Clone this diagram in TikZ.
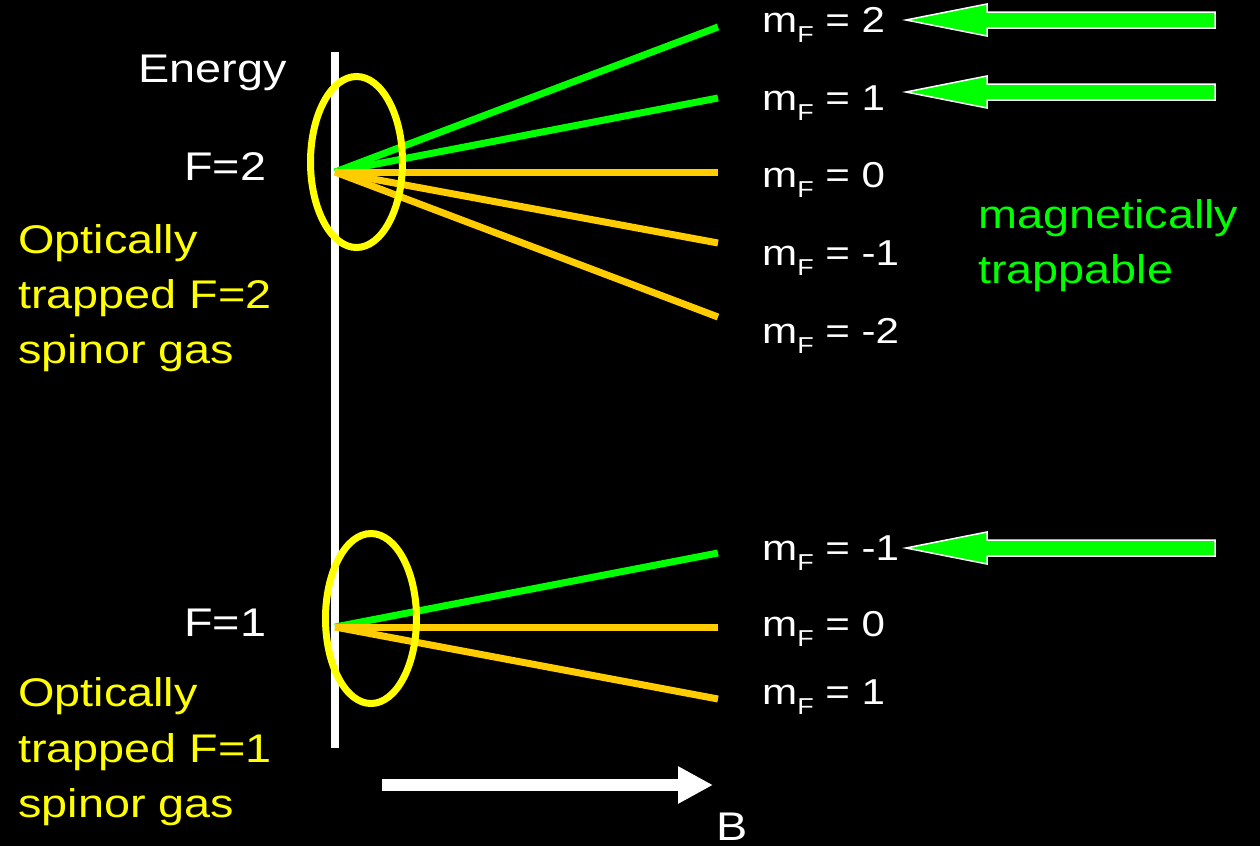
\documentclass[tikz,border=0pt]{standalone}
\usepackage{fontspec}
\setmainfont{Liberation Sans}
\usetikzlibrary{shapes.geometric,arrows.meta}
\definecolor{lgreen}{RGB}{0,255,0}
\definecolor{lorange}{RGB}{255,204,0}
\definecolor{lyellow}{RGB}{255,255,0}
\newcommand\mysx[1]{\scalebox{1.17}[1]{#1}}
\newcommand\mylbl[1]{\mysx{m\raisebox{-10pt}{\fontsize{23}{23}\selectfont F} = #1}}
\begin{document}
\begin{tikzpicture}[x=1pt,y=-1pt,
  lbl/.style={inner sep=0pt, anchor=base west, text=white, font=\fontsize{36}{36}\selectfont},
  big/.style={inner sep=0pt, anchor=base west, font=\fontsize{40}{40}\selectfont},
  lev/.style={line width=7pt},
  ring/.style={ellipse, draw=lyellow, line width=7pt, inner sep=0pt},
  bigarrow/.style={fill=lgreen, draw=white, line width=1.5pt, line join=miter}]
\fill[black] (0,0) rectangle (1260,846);
\useasboundingbox (0,0) rectangle (1260,846);
% energy axis
\coordinate (vt) at (335,52);
\coordinate (vb) at (335,748);
\draw[white, line width=8pt] (vt) -- (vb);
% F=2 levels
\coordinate (o2) at (335,172);
\coordinate (u2) at (718,27);
\coordinate (u1) at (718,98);
\coordinate (u0) at (718,172);
\coordinate (um1) at (718,243);
\coordinate (um2) at (718,317);
\draw[lev, lgreen] (o2) -- (u2);
\draw[lev, lgreen] (o2) -- (u1);
\draw[lev, lorange] (o2) -- (u0);
\draw[lev, lorange] (o2) -- (um1);
\draw[lev, lorange] (o2) -- (um2);
% F=1 levels
\coordinate (o1) at (335,627);
\coordinate (d1) at (718,553);
\coordinate (d0) at (718,627);
\coordinate (dm1) at (718,699);
\draw[lev, lgreen] (o1) -- (d1);
\draw[lev, lorange] (o1) -- (d0);
\draw[lev, lorange] (o1) -- (dm1);
% rings
\node[ring, minimum width=92pt, minimum height=171pt] (r2) at (356.5,162) {};
\node[ring, minimum width=91pt, minimum height=170pt] (r1) at (371,618.5) {};
% labels
\node[big, text=white] (energy) at (138,82) {\mysx{Energy}};
\node[big, text=white] (f2) at (184,180) {\mysx{F=2}};
\node[big, text=white] (f1) at (184,636) {\mysx{F=1}};
\node[big, text=lyellow] (y1) at (18,253) {\mysx{Optically}};
\node[big, text=lyellow] (y2) at (18,308) {\mysx{trapped F=2}};
\node[big, text=lyellow] (y3) at (18,363) {\mysx{spinor gas}};
\node[big, text=lyellow] (z1) at (18,706) {\mysx{Optically}};
\node[big, text=lyellow] (z2) at (18,762) {\mysx{trapped F=1}};
\node[big, text=lyellow] (z3) at (18,817) {\mysx{spinor gas}};
\node[big, text=lgreen] (mag1) at (978,228) {\mysx{magnetically}};
\node[big, text=lgreen] (mag2) at (978,283) {\mysx{trappable}};
\node[lbl] (m2) at (762,32) {\mylbl{2}};
\node[lbl] (m1) at (762,110) {\mylbl{1}};
\node[lbl] (m0) at (762,187) {\mylbl{0}};
\node[lbl] (mm1) at (762,265) {\mylbl{-1}};
\node[lbl] (mm2) at (762,343) {\mylbl{-2}};
\node[lbl] (n1) at (762,560) {\mylbl{-1}};
\node[lbl] (n0) at (762,636) {\mylbl{0}};
\node[lbl] (np1) at (762,704) {\mylbl{1}};
% green arrows
\coordinate (ta) at (906,20);
\coordinate (tb) at (906,92);
\coordinate (tc) at (906,548);
\draw[bigarrow] (ta) -- ++(81,-16) -- ++(0,8) -- ++(228,0) -- ++(0,16) -- ++(-228,0) -- ++(0,8) -- cycle;
\draw[bigarrow] (tb) -- ++(81,-16) -- ++(0,8) -- ++(228,0) -- ++(0,16) -- ++(-228,0) -- ++(0,8) -- cycle;
\draw[bigarrow] (tc) -- ++(81,-16) -- ++(0,8) -- ++(228,0) -- ++(0,16) -- ++(-228,0) -- ++(0,8) -- cycle;
% B axis
\coordinate (bs) at (382,785);
\coordinate (be) at (713,785);
\draw[white, line width=12pt, -{Triangle[length=35pt,width=35pt]}] (bs) -- (be);
\node[big, text=white] (b) at (716,840) {\mysx{B}};
\end{tikzpicture}
\end{document}
